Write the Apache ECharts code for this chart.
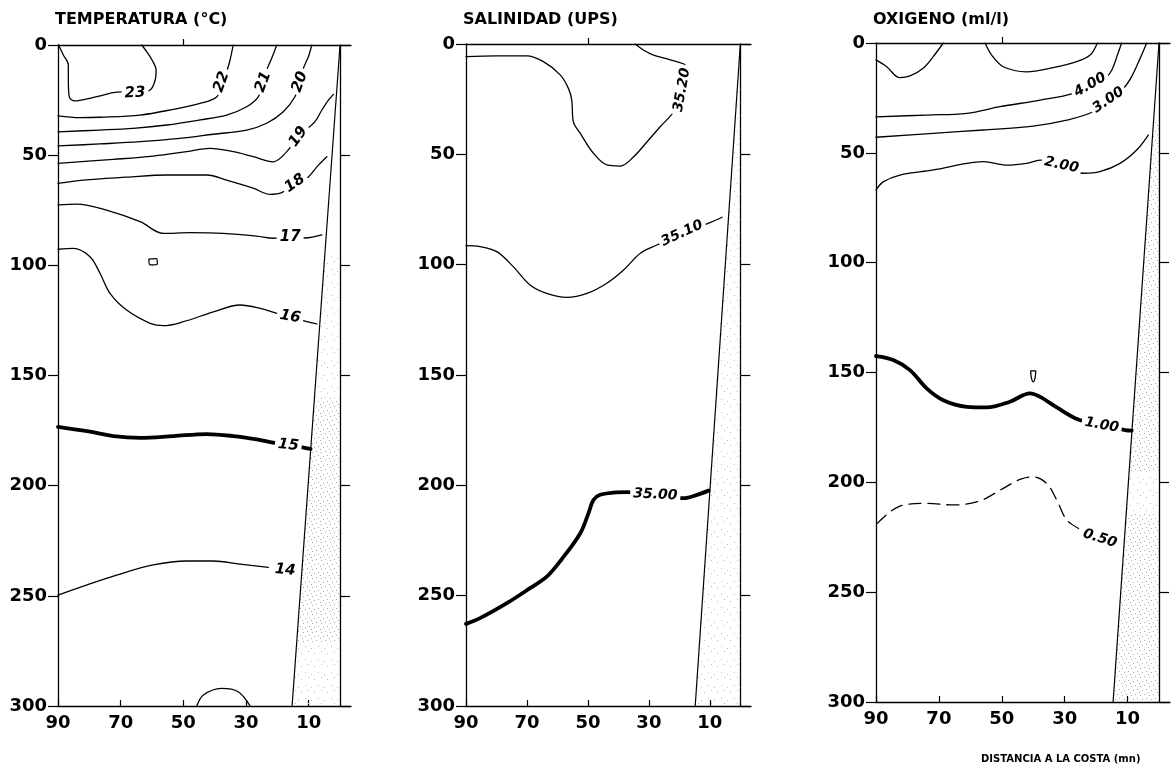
<!DOCTYPE html>
<html><head><meta charset="utf-8">
<script src="https://cdn.jsdelivr.net/npm/echarts@6/dist/echarts.min.js"></script>
<style>html,body{margin:0;padding:0;background:#fff}#c{width:1176px;height:769px}</style>
</head><body><div id="c"></div>
<script>
// ---------- axes ----------
const depthTicks = [0, 50, 100, 150, 200, 250, 300];
const distTicks = [90, 70, 50, 30, 10];
const topTicks = [50];
const titles = ['TEMPERATURA (°C)', 'SALINIDAD (UPS)', 'OXIGENO (ml/l)'];
const xAxisName = 'DISTANCIA A LA COSTA (mn)';

// ---------- temperature (°C) contours: [distance mn, depth m] ----------
const t23 = [[89.8,0],[88.3,4.5],[86.7,9.1],[86.7,15.9],[86.4,23.5],[84.6,25.4],[79.8,24.2],[75.6,22.7],[70.2,21.3],[65.4,21.8],[60.6,20.4],[59.0,15.9],[58.7,11.3],[60,6.8],[61.6,3.2],[63.3,0]];
const t22 = [[90,32.2],[83,33],[76.6,32.8],[63.8,31.8],[53.2,29.2],[44.7,26.5],[39.3,23.5],[37.8,16.7],[36.2,12.1],[35.1,6.8],[34.1,0]];
const t21 = [[90,39.4],[76.6,38.6],[66,37.8],[55.3,36.3],[44.7,34],[36.2,31.8],[29.8,28],[26.1,23.5],[24.5,16.7],[23.4,11.3],[21.8,6],[20.2,0]];
const t20 = [[90,45.8],[76.6,44.9],[63.8,43.9],[51.1,42.4],[40.4,40.5],[29.8,38.6],[23.4,35.5],[18.1,30.3],[14.4,23.5],[12.8,16.7],[11.7,10.6],[10.1,5.3],[9,0]];
const t19 = [[90,53.7],[72.3,51.9],[59.6,50.4],[48.9,48.4],[41.5,46.9],[34,48.4],[27.7,50.7],[21.3,53],[17,48.4],[13.3,41.6],[8,34.8],[5.8,29.5],[3.7,25],[2.1,22.4]];
const t18 = [[90,62.8],[81.9,61.3],[68.1,60],[55.3,59],[42.5,59],[36.2,61.3],[27.7,65],[22.3,67.8],[18.6,67],[14.4,62.8],[10.6,60.5],[6.9,54.5],[4.2,50.7]];
const t17 = [[90,72.6],[84,72.2],[74.5,74.9],[63.8,80.2],[56.4,85.5],[47.9,85.2],[37.2,85.5],[26.6,86.7],[21.3,87.7],[15.9,87.3],[11.2,87.6],[5.8,86.2]];
const t16 = [[90,92.7],[85.1,92.3],[79.8,96.1],[76.6,103.6],[73.4,112.7],[68.1,120.3],[60.6,126.3],[56.4,127.4],[50,125.6],[40.4,121.1],[31.9,118],[25.5,119.5],[20.2,121.8],[15.9,123.3],[10.6,125.6],[7.4,126.6]];
const t16cell = [[61,97.2],[58.6,97],[58.3,99.4],[60.6,99.8],[61,97.2]];
const t15 = [[90,173.3],[79.8,175.5],[72.3,177.5],[63.8,178.3],[53.2,177.5],[42.5,176.6],[34,177.5],[26.6,179],[21.3,180.5],[16.5,181.6],[11.2,182.8],[9.4,183.3]];
const t14 = [[90,249.7],[81.9,245.6],[71.3,240.6],[59.6,236],[48.9,234.2],[40.4,234.2],[31.9,235.6],[22.9,237.1]];
const t14bottom = [[45.7,300],[43.6,295],[37.8,292],[32.5,293.5],[28.7,300]];
const tempLabels = [['23',65.4,21.8],['22',37.8,16.7],['21',24.5,16.7],['20',12.8,16.7],['19',13.3,41.6],['18',14.4,62.8],['17',15.9,87.3],['16',15.9,123.3],['15',16.5,181.6],['14',17.5,238.3]];

// ---------- salinity (UPS) contours ----------
const s3520 = [[90,5.7],[80,5.4],[70.1,5.4],[64.6,8],[59.1,14],[56.4,20.1],[55.3,25.4],[54.8,35.2],[52.5,40.5],[48.2,49.5],[43.8,54.8],[39.4,55.3],[35,51.1],[30.6,44.3],[26.3,37.5],[21.9,30.7],[19.1,20.8],[17,12.6],[18.1,9.5],[23,7.2],[28.5,5],[31.8,2.7],[34.5,0]];
const s3510 = [[90,91.4],[85.4,91.8],[79.9,94.1],[74.5,100.9],[69,109.2],[63.5,113],[56.9,114.8],[50.3,113],[43.8,108.4],[38.3,102.4],[32.8,94.8],[27.4,91.1],[19.1,85.8],[10.4,81.2],[6,78.5]];
const s3500 = [[90,262.8],[85.4,260.2],[76.6,253.4],[69,246.6],[63.5,241.4],[58.6,233.5],[52.5,221.7],[49.8,212.6],[48.2,206.6],[46,204.3],[41.6,203.3],[37.2,203.1],[27.9,204.3],[18.6,205.8],[14.2,204.3],[10.4,202.4]];
const salLabels = [['35.20',19.1,20.8],['35.10',19.1,85.8],['35.00',27.9,204.3]];

// ---------- oxygen (ml/l) contours ----------
const o5a = [[90,7.7],[86.6,10.8],[82.4,15.8],[79.2,15],[75,11.5],[71.8,6.2],[68.6,0]];
const o5b = [[55.3,0],[53.2,5.5],[49.5,10.8],[42.1,13.1],[33.7,11.2],[26.2,8.5],[21.9,5.5],[19.6,0]];
const o4 = [[90,33.6],[73.9,32.8],[61.1,32],[50.6,29],[37.8,26],[27.2,22.9],[21.9,19.1],[16.6,15.3],[15,12.3],[13.4,6.2],[11.9,0]];
const o3 = [[90,42.9],[71.8,41.1],[55.9,39.6],[40,37.8],[29.3,35.1],[20.9,31.3],[16.1,26],[11.3,20.6],[8.7,15.3],[6,7],[3.9,0]];
const o2 = [[90,66.9],[87.7,63.2],[82.4,60.1],[71.8,57.8],[61.1,54.8],[55.9,54],[48.4,55.6],[42.1,54.8],[37.8,53.3],[31,55.6],[24.1,59.3],[18.8,58.6],[12.4,54.8],[7.1,48.7],[3.4,41.9]];
const o1 = [[90,142.5],[84.5,144.3],[79.2,148.9],[73.9,157.2],[68.6,162.6],[61.1,165.6],[54.8,165.9],[47.4,163.3],[41,159.5],[37.8,161.1],[32.5,165.9],[25.7,171.4],[18.2,174],[10.8,176.2],[8.7,176.5]];
const o1cell = [[40.8,149.3],[39.2,149.3],[39.4,152.3],[40,154.3],[40.6,152.3],[40.8,149.3]];
const o05 = [[89.6,218.7],[85.5,213.4],[81.3,210.3],[73.9,209.6],[65.4,210.3],[56.9,208.4],[50.6,203.6],[44.2,198.7],[40,197.5],[35.7,200.5],[32.5,208.1],[29.3,217.2],[24.5,221.8]];
const oxyLabels = [['4.00',21.9,19.1],['3.00',16.1,26],['2.00',31,55.6],['1.00',18.2,174],['0.50',18.8,225.6]];

// ---------- coastal slope (shelf) : [distance, depth] ----------
const coastT = [[0,0],[15.3,300]];
const coastS = [[0,0],[14.8,300]];
const coastO = [[0,0],[14.6,300]];
// stippled depth ranges [from, to, dense?]
const stippleT = [[95,160,0],[160,272,1],[272,300,0]];
const stippleS = [[15,300,0]];
const stippleO = [[35,195,1],[195,214,0],[214,300,1]];

// ---------- styles ----------
const FONT = 'DejaVu Sans';
const thin = 1.3, thick = 3.8;
const tempAngles = [3,70,70,70,55,35,0,-10,-6,-5];
const salAngles = [80,25,-3];
const oxyAngles = [30,35,-12,-10,-18];

function makeStipple(size, dots, color) {
  const c = document.createElement('canvas');
  c.width = size; c.height = size;
  const g = c.getContext('2d');
  g.fillStyle = color;
  dots.forEach(d => g.fillRect(d[0], d[1], 1, 1));
  return c;
}
const densePat = {type:'pattern', repeat:'repeat', image: makeStipple(9, [[1,1],[6,2],[3,5],[8,6],[5,8]], '#a8a8a8')};
const sparsePat = {type:'pattern', repeat:'repeat', image: makeStipple(13, [[2,3],[9,1],[6,9],[12,11]], '#bcbcbc')};

const panels = [
  {left:58, top:45, width:293, height:661, title: titles[0],
   lines:[[t23,thin],[t22,thin],[t21,thin],[t20,thin],[t19,thin],[t18,thin],[t17,thin],[t16,thin],[t16cell,thin],[t15,thick],[t14,thin],[t14bottom,thin]],
   labels: tempLabels, angles: tempAngles, lfs: 15, coast: coastT, stipple: stippleT},
  {left:466, top:44, width:285, height:662, title: titles[1],
   lines:[[s3520,thin],[s3510,thin],[s3500,thick]],
   labels: salLabels, angles: salAngles, lfs: 14, coast: coastS, stipple: stippleS},
  {left:876, top:43, width:294, height:659, title: titles[2],
   lines:[[o5a,thin],[o5b,thin],[o4,thin],[o3,thin],[o2,thin],[o1,thick],[o1cell,thin],[o05,thin,'dash']],
   labels: oxyLabels, angles: oxyAngles, lfs: 14, coast: coastO, stipple: stippleO}
];

const XMIN = -3.5, XMAX = 90;
const grid = [], xAxis = [], yAxis = [], series = [], title = [];
const axisLineStyle = {color:'#000', width:1.3};
const tickLabel = {color:'#000', fontSize:18, fontWeight:'bold', fontFamily:FONT};

panels.forEach((p, i) => {
  grid.push({left:p.left, top:p.top, width:p.width, height:p.height, containLabel:false, outerBoundsMode:'none'});
  title.push({text:p.title, left:p.left - 3, top:12, padding:0,
    textStyle:{color:'#000', fontSize:16, fontWeight:'bold', fontFamily:FONT}});
  const xi = xAxis.length, yi = yAxis.length;
  xAxis.push({gridIndex:i, type:'value', inverse:true, min:XMIN, max:XMAX, position:'bottom',
    axisLine:{show:true, onZero:false, lineStyle:axisLineStyle},
    axisTick:{show:true, inside:true, length:6, customValues:distTicks, lineStyle:{color:'#000', width:1.2}},
    axisLabel:Object.assign({customValues:distTicks, margin:8}, tickLabel),
    splitLine:{show:false}});
  xAxis.push({gridIndex:i, type:'value', inverse:true, min:XMIN, max:XMAX, position:'top',
    axisLine:{show:true, onZero:false, lineStyle:axisLineStyle},
    axisTick:{show:true, inside:false, length:6, customValues:topTicks, lineStyle:{color:'#000', width:1.2}},
    axisLabel:{show:false}, splitLine:{show:false}});
  yAxis.push({gridIndex:i, type:'value', inverse:true, min:0, max:300, interval:50, position:'left',
    axisLine:{show:true, onZero:false, lineStyle:axisLineStyle},
    axisTick:{show:true, inside:false, length:10, lineStyle:{color:'#000', width:1.2}},
    axisLabel:Object.assign({margin:11}, tickLabel),
    splitLine:{show:false}});
  // coast line at distance 0 with outward ticks
  yAxis.push({gridIndex:i, type:'value', inverse:true, min:0, max:300, interval:50, position:'right',
    offset: -p.width * (0 - XMIN) / (XMAX - XMIN),
    axisLine:{show:true, onZero:false, lineStyle:axisLineStyle},
    axisTick:{show:true, inside:false, length:10, lineStyle:{color:'#000', width:1.2}},
    axisLabel:{show:false}, splitLine:{show:false}});

  // stippled shelf wedge
  const c = p.coast;
  const xAt = d => c[0][0] + (c[1][0] - c[0][0]) * (d - c[0][1]) / (c[1][1] - c[0][1]);
  series.push({type:'custom', xAxisIndex:xi, yAxisIndex:yi, silent:true, z:1,
    data: p.stipple.map(s => [0, s[0]]),
    renderItem: (params, api) => {
      const s = p.stipple[params.dataIndex];
      const pts = [[xAt(s[0]), s[0]], [xAt(s[1]), s[1]], [0, s[1]], [0, s[0]]].map(q => api.coord(q));
      return {type:'polygon', shape:{points:pts}, style:{fill: s[2] ? densePat : sparsePat, stroke:null}};
    }});
  series.push({type:'line', xAxisIndex:xi, yAxisIndex:yi, data:c, symbol:'none', silent:true, z:3,
    lineStyle:{color:'#000', width:1.2}});

  p.lines.forEach(l => {
    series.push({type:'line', xAxisIndex:xi, yAxisIndex:yi, data:l[0], smooth:0.35, symbol:'none',
      silent:true, z:2, clip:true,
      lineStyle:{color:'#000', width:l[1], type: l[2] ? [12,7] : 'solid', cap:'round', join:'round'}});
  });

  series.push({type:'scatter', xAxisIndex:xi, yAxisIndex:yi, symbolSize:0, silent:true, z:5,
    itemStyle:{opacity:1, color:'#000'},
    data: p.labels.map((lb, k) => ({name:lb[0], value:[lb[1], lb[2]], label:{rotate:p.angles[k]}})),
    label:{show:true, position:'inside', formatter: q => q.name, color:'#000', opacity:1,
      textBorderWidth:0, textShadowBlur:0,
      fontFamily:FONT, fontStyle:'italic', fontWeight:'bold', fontSize:p.lfs,
      backgroundColor:'#fff', padding:[0,3]}});
});

title.push({text:xAxisName, left:981, top:754, padding:0,
  textStyle:{color:'#000', fontSize:10, fontWeight:'bold', fontFamily:FONT}});

const chart = echarts.init(document.getElementById('c'), null, {renderer:'canvas'});
chart.setOption({animation:false, backgroundColor:'#fff', title, grid, xAxis, yAxis, series});
</script></body></html>
